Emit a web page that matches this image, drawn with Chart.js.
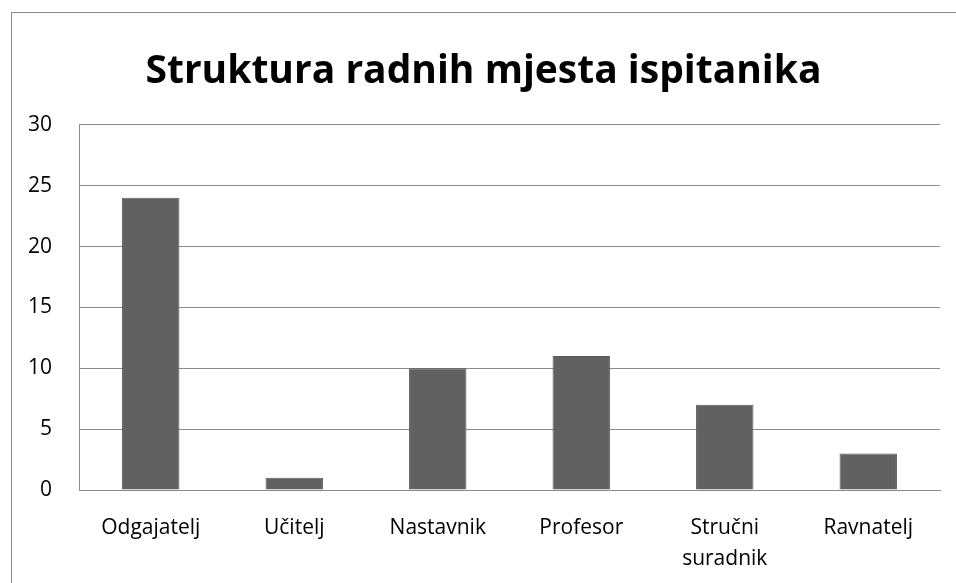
<!DOCTYPE html>
<html>
<head>
<meta charset="utf-8">
<script src="https://cdn.jsdelivr.net/npm/chart.js@4"></script>
<style>
  html, body { margin: 0; padding: 0; background: #fff; overflow: hidden; }
  #frame { position: absolute; left: 11px; top: 12px; width: 1200px; height: 800px; border: 1px solid #8a8a8a; }
  #wrap { position: absolute; left: 0; top: 0; width: 956px; height: 583px; }
</style>
</head>
<body>
<div id="frame"></div>
<div id="wrap"><canvas id="chart"></canvas></div>
<script>
const categories = ['Odgajatelj', 'Učitelj', 'Nastavnik', 'Profesor', ['Stručni', 'suradnik'], 'Ravnatelj'];
const values = [24, 1, 10, 11, 7, 3];
const yTicks = [0, 5, 10, 15, 20, 25, 30];

function chart() {
  const $chartArea = document.querySelector('#chart');
  const ctx = $chartArea.getContext('2d');

  new Chart(ctx, {
    type: 'bar',
    data: {
      labels: categories,
      datasets: [{
        data: values,
        backgroundColor: '#616161',
        borderColor: '#5a5a5a',
        borderWidth: 1,
        categoryPercentage: 1,
        barPercentage: 0.4,
      }]
    },
    options: {
      responsive: true,
      maintainAspectRatio: false,
      animation: false,
      layout: {
        padding: { left: 27, right: 16, top: 0, bottom: 11 }
      },
      plugins: {
        legend: { display: false },
        tooltip: { enabled: false },
        title: {
          display: true,
          text: 'Struktura radnih mjesta ispitanika',
          color: '#000',
          font: { family: 'Open Sans', size: 39, weight: 'bold' },
          padding: { top: 48, bottom: 30 }
        }
      },
      scales: {
        x: {
          grid: { display: false, drawTicks: false },
          border: { display: true, color: '#8a8a8a', width: 1 },
          ticks: {
            color: '#000',
            font: { family: 'Open Sans', size: 21, lineHeight: 1.48 },
            padding: 22,
            maxRotation: 0,
            autoSkip: false
          },
          afterFit: (axis) => {
            axis.height = 82;
            axis.paddingLeft = 0;
            axis.paddingRight = 0;
          }
        },
        y: {
          min: 0,
          max: 30,
          afterBuildTicks: (axis) => { axis.ticks = yTicks.map(v => ({ value: v })); },
          grid: { color: '#8a8a8a', lineWidth: 1, drawTicks: false },
          border: { display: true, color: '#8a8a8a', width: 1 },
          ticks: {
            color: '#000',
            font: { family: 'Open Sans', size: 21 },
            padding: 27
          },
          afterFit: (axis) => {
            axis.width = 52;
            axis.paddingTop = 0;
            axis.paddingBottom = 0;
          }
        }
      }
    }
  });
}
chart();
</script>
</body>
</html>
